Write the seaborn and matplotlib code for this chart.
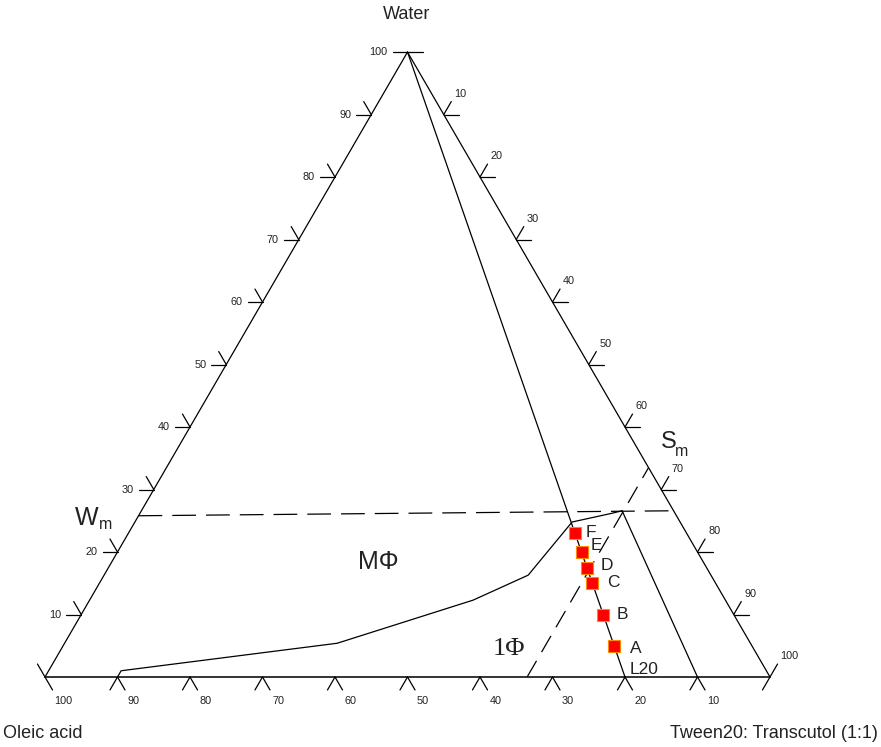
import numpy as np
import pandas as pd
import matplotlib
matplotlib.use('Agg')
import matplotlib.pyplot as plt
import seaborn as sns

# ---- data (percentages) ----
# grid values along each side of the triangle
tick_values = [0, 10, 20, 30, 40, 50, 60, 70, 80, 90, 100]

# phase boundary between MPhi and 1Phi (water %, Tween20:Transcutol %)
boundary_water = [0, 1.0, 5.4, 12.3, 16.3, 24.8, 26.2, 26.6]
boundary_smix = [10, 10, 37.6, 52.9, 58.5, 60.3, 65.1, 66.3]

# formulations on the dilution line L20 (20% oleic acid, 80% Smix)
point_labels = ['A', 'B', 'C', 'D', 'E', 'F']
point_water = [5, 10, 15, 17.5, 20, 23]
point_smix = [76, 72, 68, 66, 64, 61.6]

# dilution line: water apex -> L20 on the base
dilution_water = [100, 0]
dilution_smix = [0, 80]

# line from the Wm/Sm corner down to 10% oleic acid
corner_water = [26.6, 0]
corner_smix = [66.3, 90]

# Wm (dashed, roughly constant water) and Sm (dashed, constant Smix)
wm_water = [25.8, 26.6]
wm_smix = [0, 73.4]
sm_water = [0, 33.5]
sm_smix = [66.5, 66.5]

H = 0.862  # triangle height / base as drawn in the picture


def cart(smix, water):
    smix = np.asarray(smix, dtype=float) / 100
    water = np.asarray(water, dtype=float) / 100
    return smix + water / 2, water * H


def px(x, y):
    # pixel position in the picture -> data coords
    return (x - 45) / 725, (677 - y) / 725


sns.set_style('white')
plt.rcParams['font.family'] = ['Liberation Sans', 'DejaVu Sans']

fig = plt.figure(figsize=(8.81, 7.47), dpi=100)
ax = fig.add_axes([0, 0, 1, 1])

# triangle
ax.plot(*cart([0, 0], [0, 100]), color='black', lw=0.9)
ax.plot(*cart([0, 100], [100, 0]), color='black', lw=0.9)
ax.plot(*cart([0, 100], [0, 0]), color='#333333', lw=1.4)

# ticks
L = 15 / 725
up_left = np.array([-0.502, 0.865]) * L
up_right = np.array([0.502, 0.865]) * L
down_left = np.array([-0.502, -0.865]) * L
down_right = np.array([0.502, -0.865]) * L
left = np.array([-L, 0])
right = np.array([L, 0])
tick_kw = dict(color='black', lw=0.9)
lab_kw = dict(fontsize=7.8, color='#222222')

for v in tick_values:
    # left side: water %
    p = np.array(cart(0, v))
    if v > 0:
        ax.plot([p[0], p[0] + left[0]], [p[1], p[1]], **tick_kw)
        ax.text(p[0] - 20 / 725, p[1], str(v), ha='right', va='center', **lab_kw)
    if v < 100:
        ax.plot([p[0], p[0] + up_left[0]], [p[1], p[1] + up_left[1]], **tick_kw)

    # right side: Tween20:Transcutol %
    p = np.array(cart(v, 100 - v))
    if v < 100:
        ax.plot([p[0], p[0] + right[0]], [p[1], p[1]], **tick_kw)
    if v > 0:
        e = p + up_right
        ax.plot([p[0], e[0]], [p[1], e[1]], **tick_kw)
        ax.text(e[0] + 3 / 725, e[1] + 3 / 725, str(v), ha='left', va='bottom', **lab_kw)

    # base: oleic acid %
    p = np.array(cart(100 - v, 0))
    if v < 100:
        e = p + down_left
        ax.plot([p[0], e[0]], [p[1], e[1]], **tick_kw)
    if v > 0:
        e = p + down_right
        ax.plot([p[0], e[0]], [p[1], e[1]], **tick_kw)
        ax.text(e[0] + 2 / 725, e[1] - 6 / 725, str(v), ha='left', va='top', **lab_kw)

# dilution line and the corner line
ax.plot(*cart(dilution_smix, dilution_water), color='black', lw=0.9)
ax.plot(*cart(corner_smix, corner_water), color='black', lw=0.9)

# phase boundary
bx, by = cart(boundary_smix, boundary_water)
sns.lineplot(x=bx, y=by, sort=False, estimator=None, color='black', lw=0.9, ax=ax)

# dashed Wm / Sm lines
ax.plot(*cart(wm_smix, wm_water), color='black', lw=0.9, dashes=(19, 8))
ax.plot(*cart(sm_smix, sm_water), color='black', lw=0.9, dashes=(15, 8))

# formulation points
pxs, pys = cart(point_smix, point_water)
pts = pd.DataFrame({'x': pxs, 'y': pys, 'label': point_labels})
sns.scatterplot(data=pts, x='x', y='y', marker='s', s=72, color='red',
                edgecolor='#ff8c00', linewidth=0.8, zorder=5, ax=ax)

label_offsets = {'A': (22, -3), 'B': (19, 0), 'C': (21, 1),
                 'D': (20, 2), 'E': (15, 7), 'F': (16, 1)}
for _, r in pts.iterrows():
    ax.annotate(r['label'], (r['x'], r['y']), xytext=label_offsets[r['label']],
                textcoords='offset pixels', ha='center', va='center',
                fontsize=12.5, color='#222222')

l20 = cart(dilution_smix[1], dilution_water[1])
ax.annotate('L20', l20, xytext=(19, 7), textcoords='offset pixels',
            ha='center', va='center', fontsize=12.5, color='#222222')

# region / line labels
ax.text(*px(378, 562), 'M\u03a6', ha='center', va='center', fontsize=18, color='#222222')
ax.text(*px(509, 649), '1\u03a6', ha='center', va='center', fontsize=19,
        family=['Liberation Serif', 'DejaVu Serif'], color='#222222')
ax.text(*px(75, 525), 'W', ha='left', va='baseline', fontsize=18, color='#222222')
ax.text(*px(99, 529), 'm', ha='left', va='baseline', fontsize=11.5, color='#222222')
ax.text(*px(661, 448), 'S', ha='left', va='baseline', fontsize=17, color='#222222')
ax.text(*px(675, 456), 'm', ha='left', va='baseline', fontsize=11.5, color='#222222')

# component names
ax.text(*px(407, 15), 'Water', ha='center', va='center', fontsize=13, color='#222222')
ax.text(*px(3, 734), 'Oleic acid', ha='left', va='center', fontsize=13, color='#222222')
ax.text(*px(878, 734), 'Tween20: Transcutol (1:1)', ha='right', va='center',
        fontsize=13, color='#222222')

ax.set_xlim(-45 / 725, 836 / 725)
ax.set_ylim(-70 / 725, 677 / 725)
ax.axis('off')

fig.savefig('out.png', dpi=100)
